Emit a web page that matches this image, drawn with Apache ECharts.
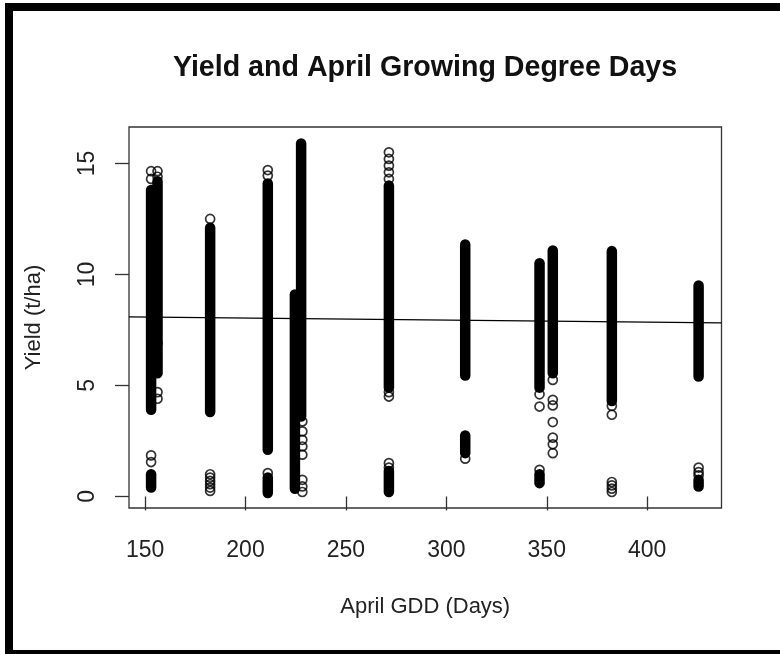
<!DOCTYPE html>
<html>
<head>
<meta charset="utf-8">
<script src="https://cdn.jsdelivr.net/npm/echarts@6/dist/echarts.min.js"></script>
<style>
  html, body { margin: 0; padding: 0; background: #fff; }
  #chart { width: 780px; height: 654px; }
</style>
</head>
<body>
<div id="chart"></div>
<script>
// ---- data ----
const titleText = 'Yield and April Growing Degree Days';
const xName = 'April GDD (Days)';
const yName = 'Yield (t/ha)';
const xTicks = [150, 200, 250, 300, 350, 400];
const yTicks = [0, 5, 10, 15];

// dense runs of overlapping observations (GDD, lowest yield, highest yield)
const runX    = [153, 153, 156.2, 182.4, 211.1, 211.1, 224.6, 227.7, 271.4, 271.4, 309.4, 309.4, 346.4, 346.4, 353, 382.4, 425.6, 425.6];
const runLow  = [3.9, 0.4, 5.55, 3.8, 2.1, 0.15, 0.35, 3.6, 4.9, 0.2, 1.95, 5.45, 4.9, 0.6, 5.55, 4.3, 5.4, 0.45];
const runHigh = [13.8, 1.0, 14.2, 12.1, 14.1, 0.85, 9.1, 15.9, 14.0, 1.15, 2.75, 11.35, 10.5, 1.0, 11.08, 11.05, 9.5, 0.75];

// isolated observations
const ptX = [153, 153, 153, 153,
             156.2, 156.2, 156.2, 156.2, 156.2,
             182.4, 182.4, 182.4, 182.4, 182.4, 182.4, 182.4,
             211.1, 211.1, 211.1,
             228.3, 228.3, 228.3, 228.3, 228.3, 228.3, 228.3, 228.3,
             271.4, 271.4, 271.4, 271.4, 271.4, 271.4, 271.4, 271.4, 271.4,
             309.4,
             346.4, 346.4, 346.4,
             353, 353, 353, 353, 353, 353, 353,
             382.4, 382.4, 382.4, 382.4, 382.4, 382.4,
             425.6, 425.6, 425.6];
const ptY = [14.65, 14.3, 1.85, 1.55,
             14.65, 14.4, 6.9, 4.7, 4.4,
             12.5, 1.0, 0.85, 0.7, 0.55, 0.4, 0.25,
             14.7, 14.45, 1.05,
             3.38, 2.93, 2.55, 2.25, 1.88, 0.75, 0.45, 0.2,
             15.5, 15.2, 14.9, 14.6, 14.3, 4.7, 4.5, 1.3, 1.5,
             1.7,
             4.6, 4.05, 1.2,
             5.25, 4.35, 4.1, 3.35, 2.65, 2.35, 1.95,
             4.08, 3.68, 0.65, 0.5, 0.35, 0.2,
             1.3, 1.1, 0.95];

// fitted regression line end points
const trendX = [142, 437];
const trendY = [8.09, 7.82];

// ---- chart ----
const FONT = '"Liberation Sans", Arial, sans-serif';
const runData = runX.map((x, i) => [x, runLow[i], runHigh[i]]);
const ptData = ptX.map((x, i) => [x, ptY[i]]);
const trendData = trendX.map((x, i) => [x, trendY[i]]);

const chart = echarts.init(document.getElementById('chart'), null, { renderer: 'canvas' });
chart.setOption({
  animation: false,
  backgroundColor: '#ffffff',
  title: {
    text: titleText,
    left: 425,
    top: 54,
    textAlign: 'center',
    padding: 0,
    textStyle: { fontFamily: FONT, fontSize: 28.6, fontWeight: 'bold', color: '#111' }
  },
  graphic: [{
    type: 'rect',
    silent: true,
    shape: { x: 9, y: 7, width: 800, height: 647 },
    style: { fill: 'none', stroke: '#000', lineWidth: 8 }
  }],
  grid: {
    left: 129, top: 127, right: 58.5, bottom: 146,
    show: true, borderColor: '#333', borderWidth: 1.3, backgroundColor: 'transparent'
  },
  xAxis: {
    type: 'value', min: 142, max: 437,
    name: xName, nameLocation: 'middle', nameGap: 88,
    nameTextStyle: { fontFamily: FONT, fontSize: 22, color: '#222' },
    axisLine: { show: false },
    axisTick: { show: true, customValues: xTicks, length: 14, lineStyle: { color: '#333', width: 1.3 } },
    axisLabel: { customValues: xTicks, margin: 31, fontFamily: FONT, fontSize: 23, color: '#222' },
    splitLine: { show: false }
  },
  yAxis: {
    type: 'value', min: -0.52, max: 16.64,
    name: yName, nameLocation: 'middle', nameGap: 84, nameRotate: 90,
    nameTextStyle: { fontFamily: FONT, fontSize: 22, color: '#222' },
    axisLine: { show: false },
    axisTick: { show: true, customValues: yTicks, length: 14, lineStyle: { color: '#333', width: 1.3 } },
    axisLabel: { customValues: yTicks, rotate: 90, margin: 30, fontFamily: FONT, fontSize: 23, color: '#222' },
    splitLine: { show: false }
  },
  series: [
    {
      type: 'custom',
      silent: true,
      data: runData,
      renderItem: function (params, api) {
        const p1 = api.coord([api.value(0), api.value(1)]);
        const p2 = api.coord([api.value(0), api.value(2)]);
        return {
          type: 'line',
          shape: { x1: p1[0], y1: p1[1], x2: p2[0], y2: p2[1] },
          style: { stroke: '#000', lineWidth: 10.5, lineCap: 'round' }
        };
      }
    },
    {
      type: 'scatter',
      silent: true,
      data: ptData,
      symbol: 'circle',
      symbolSize: 9,
      itemStyle: { color: 'rgba(255,255,255,0)', borderColor: '#000', borderWidth: 1.7 }
    },
    {
      type: 'line',
      silent: true,
      data: trendData,
      showSymbol: false,
      lineStyle: { color: '#000', width: 1.2 }
    }
  ]
});
</script>
</body>
</html>
